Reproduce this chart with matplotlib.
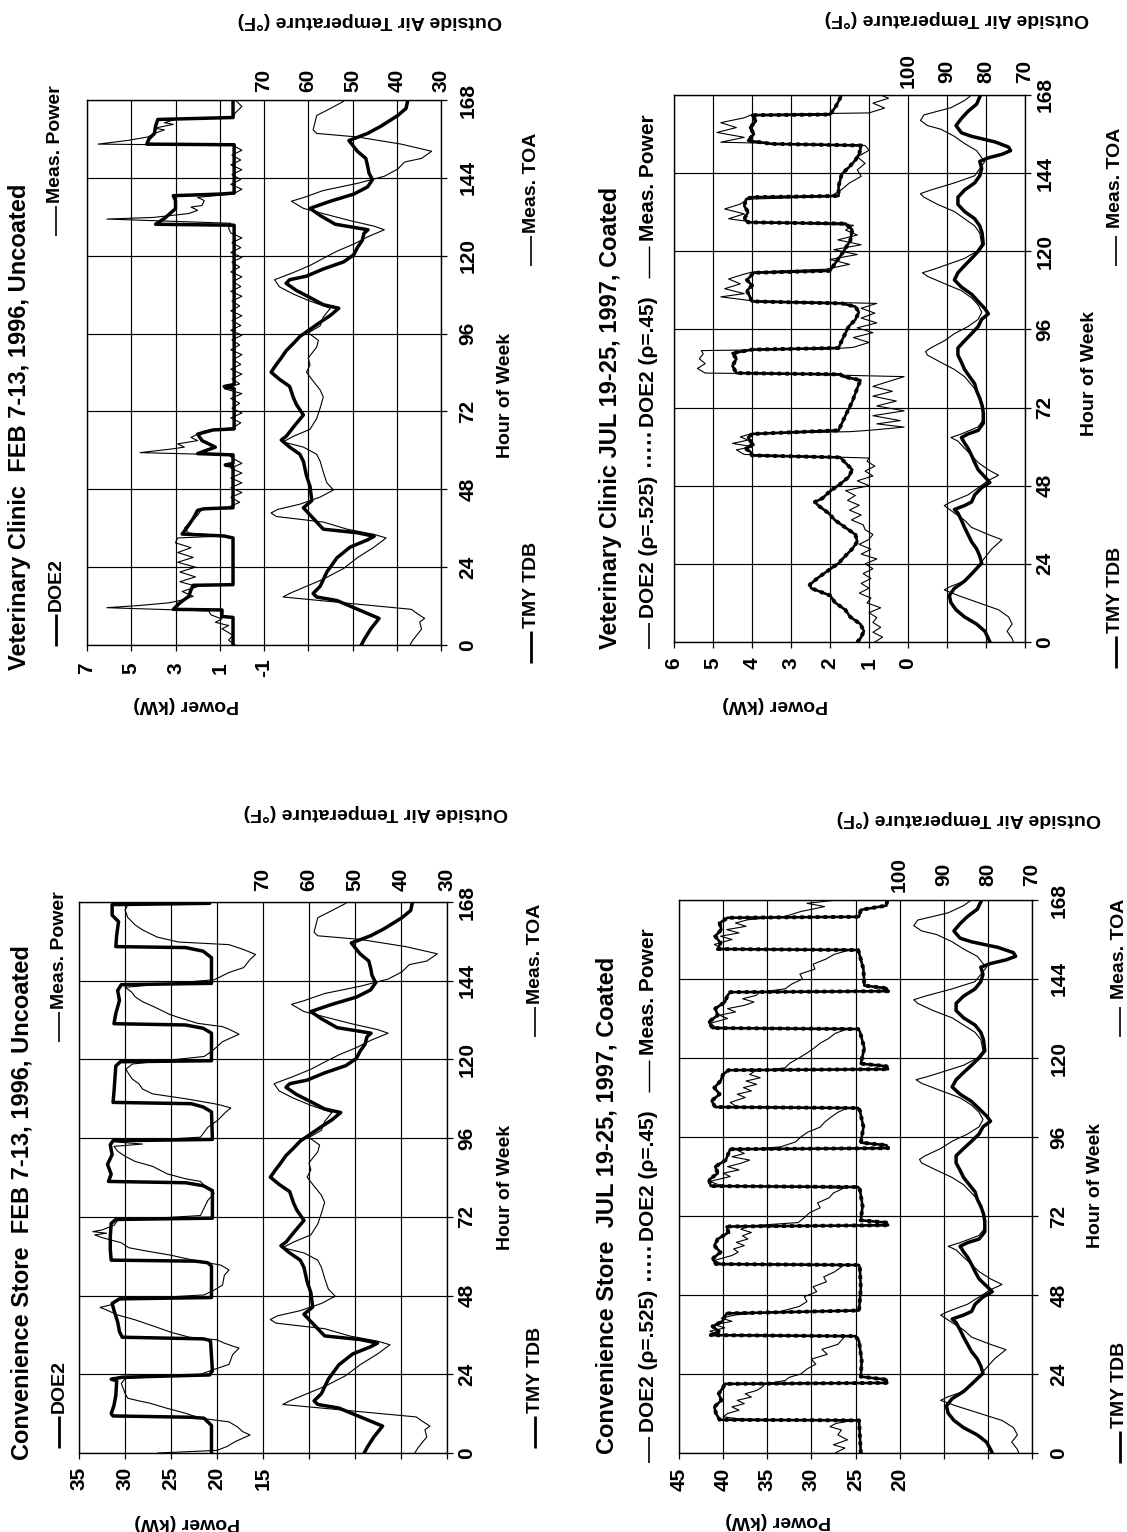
import matplotlib
matplotlib.use("Agg")
import matplotlib.pyplot as plt
from matplotlib.lines import Line2D
import numpy as np

plt.rcParams['font.family'] = ['Liberation Sans', 'DejaVu Sans']
plt.rcParams['font.weight'] = 'bold'

W, H = 1127, 1532
DPI = 100
PT = 72.0 / DPI

# ------------------------------------------------------------------ data
HOUR_TICKS = [0, 24, 48, 72, 96, 120, 144, 168]

# February week (shared by both FEB panels): (hour, degF)
FEB_TMY = [(0, 48.0), (1.6, 47.4), (4.9, 45.9), (8.2, 44.0), (9.3, 45.9), (11.5, 49.7), (13.7, 53.5),
           (14.8, 58.1), (15.9, 58.9), (18.1, 57.3), (22.5, 55.8), (26.9, 53.5), (30.2, 50.5), (32.4, 46.6),
           (33.5, 45.1), (34.6, 48.9), (35.7, 56.6), (37.9, 58.1), (40.1, 59.6), (42.3, 61.1), (44.5, 59.2),
           (48.9, 59.6), (52.2, 60.4), (56.6, 61.1), (58.8, 61.9), (61, 64.2), (63.2, 66.1), (64.3, 65.0),
           (67.6, 63.1), (70.9, 61.1), (74.2, 62.7), (76.4, 63.4), (79.7, 64.2), (81.9, 66.5), (84.1, 68.4),
           (86.3, 67.3), (88.5, 66.1), (90.7, 65.0), (92.9, 63.4), (95.1, 61.9), (97.3, 59.6), (99.5, 57.3),
           (101.6, 55.0), (103.8, 53.1), (104.9, 56.6), (107.1, 59.6), (109.3, 62.7), (111.5, 65.0),
           (112.6, 64.2), (113.7, 60.4), (115.9, 56.6), (118.1, 52.0), (120.3, 49.7), (122.5, 48.9),
           (124.7, 47.8), (126.9, 47.4), (128, 46.5), (129.7, 53.9), (132.4, 57.3), (134.6, 59.6),
           (136.8, 55.0), (139, 49.7), (141.2, 46.6), (143.4, 45.5), (145.6, 46.3), (147.8, 46.6),
           (150, 47.0), (152.2, 48.9), (155.5, 50.8), (157.7, 46.6), (159.9, 43.6), (163.2, 39.8),
           (165.4, 37.9), (168, 37.5)]
FEB_TOA = [(0, 37.0), (1.6, 36.3), (4.9, 34.4), (7.1, 34.8), (8.2, 33.7), (9.9, 35.6), (11, 36.7),
           (14.8, 65.7), (15.9, 64.2), (18.1, 60.4), (20.3, 56.6), (23.6, 52.0), (26.9, 48.9), (30.2, 45.1),
           (33, 42.4), (34.1, 45.1), (35.7, 51.2), (37.9, 56.6), (39.6, 67.2), (40.7, 68.4), (41.8, 66.9),
           (43.4, 61.9), (45.6, 57.3), (47.8, 54.3), (50, 55.8), (53.3, 56.6), (56.6, 57.3), (58.8, 58.1),
           (61, 61.1), (62.6, 65.7), (64.3, 63.4), (66.5, 59.6), (69.8, 58.1), (73.1, 57.3), (76.4, 56.6),
           (78.6, 57.3), (81.9, 59.2), (84.1, 60.4), (86.3, 59.6), (88.5, 60.0), (91.8, 58.1), (93.9, 57.7),
           (96.2, 60.0), (98.4, 57.3), (101.1, 56.6), (103.8, 55.0), (106, 59.6), (108.2, 63.4),
           (110.4, 66.5), (112.6, 67.6), (114.8, 63.4), (117, 59.6), (119.2, 56.6), (121.4, 53.5),
           (123.6, 49.7), (125.8, 46.6), (128, 42.8), (129.1, 45.1), (130.8, 50.5), (132.4, 55.0),
           (134.6, 61.1), (136.8, 63.8), (137.9, 61.1), (140.1, 56.6), (142.3, 48.9), (144.5, 42.8),
           (146.7, 39.8), (148.9, 38.2), (150, 34.4), (152.2, 32.1), (154.4, 39.0), (156.6, 48.9),
           (157.7, 58.1), (158.8, 58.9), (161, 58.5), (163.2, 58.1), (165.4, 55.0), (167.6, 52.0)]

# July week (shared by both JUL panels): (hour, degF)
JUL_TMY = [(0, 79.0), (1.1, 79.4), (3.3, 80.3), (5.5, 82.4), (7.7, 85.5), (9.9, 87.7), (12.1, 89.0),
           (14.3, 89.4), (16.5, 88.1), (18.7, 85.5), (20.9, 83.7), (23.1, 82.0), (24.2, 81.1), (26.4, 81.6),
           (28.6, 82.4), (30.8, 83.7), (33, 84.6), (35.2, 85.5), (37.4, 86.3), (39.6, 87.2), (40.7, 88.1),
           (41.9, 85.5), (43, 83.7), (45.2, 82.9), (47.4, 81.1), (49, 79.0), (50.7, 80.3), (52.9, 82.0),
           (55.1, 82.9), (57.3, 83.7), (59.5, 84.6), (61.1, 85.5), (62.8, 86.3), (63.9, 84.6), (65, 82.0),
           (67.2, 80.7), (70.5, 80.7), (72.7, 81.0), (74.9, 81.6), (77.1, 82.4), (79.3, 82.9), (81.5, 84.2),
           (83.7, 85.5), (85.9, 86.3), (88.1, 87.2), (90.3, 87.2), (92.5, 85.5), (94.7, 83.7), (96.9, 82.0),
           (99.1, 81.1), (100.8, 79.4), (102.4, 80.3), (104.6, 82.0), (106.8, 83.7), (109, 86.3),
           (111.2, 88.1), (113.4, 87.2), (115.6, 85.5), (117.8, 83.7), (120, 82.0), (122.2, 80.7),
           (125.6, 81.0), (127.8, 81.6), (130, 82.9), (132.2, 85.5), (134.4, 87.2), (136.6, 87.2),
           (138.8, 85.5), (141, 82.9), (143.2, 81.6), (145.4, 81.1), (147.6, 81.6), (148.7, 79.4),
           (149.8, 75.9), (150.9, 73.7), (152, 74.2), (153.6, 77.7), (155.3, 83.7), (156.4, 86.3),
           (158.6, 87.7), (160.8, 86.3), (163, 84.6), (165.2, 82.4), (167.4, 81.6)]
JUL_TOA = [(0, 73.0), (1.1, 73.3), (3.3, 74.6), (5.5, 73.3), (7.7, 74.2), (9.9, 76.8), (12.1, 82.0),
           (14.3, 87.2), (16, 90.7), (17.1, 89.0), (18.7, 85.5), (20.9, 83.7), (23.1, 82.0), (25.3, 80.7),
           (28.6, 78.5), (31.4, 75.9), (33, 79.4), (35.2, 83.7), (37.4, 85.5), (39.6, 88.1), (41.9, 90.7),
           (43, 89.0), (45.2, 84.6), (47.4, 82.0), (49.6, 79.4), (51.2, 76.8), (52.9, 79.4), (55.1, 82.0),
           (57.3, 83.7), (59.5, 85.5), (61.7, 87.2), (62.8, 89.0), (63.9, 86.3), (66.1, 82.0), (68.3, 80.7),
           (72.7, 81.1), (74.9, 81.6), (77.1, 82.4), (81.5, 85.5), (83.7, 88.1), (85.9, 91.6), (88.1, 95.0),
           (89.2, 95.5), (90.3, 94.2), (92.5, 90.7), (94.7, 88.1), (96.9, 84.6), (99.1, 82.0), (101.3, 81.1),
           (103.5, 82.0), (105.7, 83.7), (107.9, 86.3), (110.1, 90.7), (112.3, 95.0), (113.4, 96.3),
           (114.5, 93.3), (115.6, 90.7), (117.8, 85.5), (120, 82.4), (122.2, 81.1), (125.6, 81.6),
           (127.8, 82.9), (130, 85.5), (132.2, 88.1), (134.4, 92.4), (136.6, 95.9), (137.7, 96.8),
           (138.8, 94.2), (141, 88.1), (143.2, 82.9), (145.4, 81.6), (147.6, 80.3), (148.7, 81.1),
           (150.9, 82.4), (153.1, 85.5), (155.3, 88.1), (157.5, 91.6), (158.6, 95.0), (160.2, 96.8),
           (161.9, 95.9), (164.1, 89.0), (166.3, 85.5), (168, 83.7)]

# Veterinary clinic, February: (hour, kW)
VF_DOE2 = [(0, 0.4), (8.5, 0.4), (8.8, 0.9), (10.8, 0.9), (11.0, 3.1), (13, 2.8), (15, 2.4), (17, 2.3),
           (18.4, 2.2), (18.6, 0.4), (33, 0.4), (33.6, 0.8), (34.2, 2.7), (36, 2.5), (39, 2.2), (41.5, 2.0),
           (42, 1.7), (42.3, 0.4), (55, 0.4), (55.5, 0.75), (56, 0.4), (58.6, 0.4), (59, 2.0), (61, 1.2),
           (63, 1.8), (65, 2.0), (66.3, 1.3), (66.6, 0.35), (79, 0.35), (79.7, 0.8), (80.3, 0.35),
           (129.4, 0.35), (129.7, 3.9), (131.5, 3.5), (134.5, 3.0), (137, 3.0), (138.5, 3.1), (139, 1.0),
           (139.3, 0.35), (154.2, 0.35), (154.4, 4.3), (156, 4.2), (157.7, 3.95), (160, 3.9), (162, 3.8),
           (162.6, 0.4), (168, 0.4)]
VF_MEAS = [(0, 0.3), (1.5, 0.6), (3, 0.4), (5, 0.9), (6, 0.6), (7, 1.2), (8, 0.9), (9.3, 1.4), (10.5, 1.5),
           (11.5, 6.1), (12.2, 4.6), (13, 3.3), (13.7, 2.8), (15, 2.2), (16.5, 2.7), (18, 2.0), (19.5, 2.8),
           (21, 2.1), (22.5, 2.8), (24, 2.1), (25.5, 2.9), (27, 2.2), (28.5, 2.9), (30, 2.3), (31.5, 3.0),
           (33, 2.9), (33.6, 0.8), (34.5, 2.4), (36, 2.6), (38, 2.3), (40, 2.0), (42, 1.8), (42.5, 0.6),
           (44, 0.1), (45.5, 0.5), (47, 0.0), (48.5, 0.5), (50, 0.0), (51.5, 0.5), (53, 0.0), (54.5, 0.5),
           (56, 0.0), (57.5, 0.4), (58.6, 0.6), (59.3, 4.6), (60.4, 3.2), (61, 2.6), (62, 2.9), (63, 2.0),
           (64, 2.3), (65, 2.0), (66, 1.7), (67, 0.4), (68.5, 0.05), (70, 0.5), (71.5, 0.0), (73, 0.45),
           (74.5, 0.1), (76, 0.5), (77.5, 0.0), (79, 0.8), (80.5, 0.1), (82, 0.45), (83.5, 0.0), (85, 0.5),
           (86.5, 0.05), (88, 0.4), (89.5, 0.0), (91, 0.5), (92.5, 0.1), (94, 0.45), (95.5, 0.0), (97, 0.5),
           (98.5, 0.05), (100, 0.45), (101.5, 0.0), (103, 0.5), (104.5, 0.1), (106, 0.45), (107.5, 0.0),
           (109, 0.5), (110.5, 0.05), (112, 0.4), (113.5, 0.0), (115, 0.5), (116.5, 0.1), (118, 0.45),
           (119.5, 0.0), (121, 0.5), (122.5, 0.05), (124, 0.45), (125.5, 0.0), (127, 0.5), (128.5, 0.6),
           (130, 0.5), (131.3, 6.1), (131.8, 4.0), (133, 2.4), (134, 2.0), (135, 2.3), (135.5, 1.8),
           (137, 1.7), (138, 2.0), (139, 0.4), (140.5, 0.0), (142, 0.5), (143.5, 0.05), (145, 0.45),
           (146.5, 0.0), (148, 0.5), (149.5, 0.05), (151, 0.45), (152.5, 0.0), (154, 0.4), (154.4, 6.5),
           (155.5, 5.2), (156.6, 4.25), (157.7, 3.95), (158.8, 3.5), (159.3, 3.95), (160.5, 3.1), (161, 3.5),
           (162, 3.0), (162.6, 0.4), (164, 0.3), (166, 0.0), (168, 0.3)]

# Veterinary clinic, July: (hour, kW)
VJ_DOE2_525 = [(0, 1.3), (1.1, 1.22), (3.3, 1.13), (5.5, 1.22), (7.7, 1.48), (9.9, 1.61), (12.1, 1.87),
               (14.3, 2.0), (16.5, 2.48), (17.6, 2.52), (19.8, 2.3), (22, 2.04), (24.2, 1.78), (26.4, 1.61),
               (28.6, 1.43), (30.8, 1.3), (33, 1.35), (35.2, 1.61), (37.4, 1.87), (39.6, 2.04), (41.9, 2.3),
               (43, 2.39), (44.1, 2.2), (46.3, 2.0), (48.5, 1.74), (50.7, 1.52), (52.9, 1.43), (55.1, 1.61),
               (56.7, 1.74), (57.3, 4.0), (58.4, 4.04), (59.5, 4.17), (60.6, 3.96), (61.7, 4.04), (62.8, 4.1),
               (63.9, 4.0), (65, 1.78), (69.4, 1.61), (73.8, 1.43), (78, 1.3), (80.4, 1.22), (81.5, 1.65),
               (82.2, 1.74), (82.6, 4.4), (84.8, 4.5), (87, 4.4), (88.7, 4.5), (89.8, 4.0), (90.3, 1.78),
               (92.5, 1.7), (96.9, 1.52), (99, 1.35), (101.3, 1.26), (103, 1.35), (104, 1.7), (104.6, 4.0),
               (105.7, 4.04), (107.9, 4.13), (109.5, 4.0), (111.2, 4.13), (112.3, 4.04), (113.4, 3.96),
               (114, 2.0), (115.6, 1.91), (117.8, 1.78), (120, 1.65), (123.3, 1.48), (126.6, 1.43),
               (128.5, 1.6), (128.9, 4.1), (130, 4.2), (132, 4.1), (134, 4.2), (136, 4.15), (136.6, 4.0),
               (137, 1.78), (140, 1.78), (143.7, 1.7), (146, 1.5), (148, 1.35), (150, 1.25), (152.5, 1.2),
               (153, 3.5), (154, 4.1), (156, 3.95), (158, 4.05), (160, 3.9), (161.8, 4.0), (162, 2.0),
               (164.5, 1.85), (168, 1.7)]
VJ_DOE2_45 = VJ_DOE2_525
VJ_MEAS = [(0, 0.85), (1.5, 0.65), (3, 0.9), (4.5, 0.7), (6, 0.9), (7.5, 0.8), (9, 1.0), (10.5, 0.7),
           (12, 1.05), (13.5, 0.95), (15, 1.25), (16.5, 1.0), (18, 1.2), (19.5, 0.95), (21, 1.15), (22.5, 0.9),
           (24, 1.1), (25.5, 0.8), (27, 1.2), (28.5, 0.95), (30, 1.25), (31.5, 1.0), (33, 0.9), (34.5, 1.1),
           (36, 1.15), (37.5, 1.45), (39, 1.2), (40.5, 1.5), (42, 1.25), (43.5, 1.55), (45, 1.35), (46.5, 1.6),
           (48, 1.0), (49.5, 1.3), (51, 0.9), (52.5, 1.1), (54, 0.85), (55.5, 1.05), (56.5, 1.0), (57.2, 3.0),
           (57.6, 4.2), (59, 4.4), (60, 4.0), (61, 4.5), (62, 4.1), (63, 4.3), (64, 4.0), (64.6, 1.5),
           (65, 1.0), (66, 0.1), (67, 0.8), (68, 0.2), (69.5, 0.9), (71, 0.1), (72.5, 0.8), (74, 0.3),
           (75.5, 0.9), (77, 0.4), (78.5, 0.9), (80, 0.5), (81.5, 0.1), (82.3, 3.0), (82.6, 5.2), (84, 5.4),
           (85.5, 5.2), (87, 5.35), (88.5, 5.25), (89.5, 5.3), (90, 2.0), (90.5, 1.4), (92, 1.0), (93.5, 1.4),
           (95, 0.9), (96.5, 1.3), (98, 0.8), (99.5, 1.2), (101, 0.85), (102.5, 1.2), (104, 0.8), (104.8, 4.0),
           (106, 4.8), (107, 4.2), (108.5, 4.7), (110, 4.3), (111.5, 4.6), (113, 4.2), (113.6, 4.0),
           (114.5, 2.1), (116, 1.5), (117.5, 2.0), (119, 1.3), (120.5, 1.9), (122, 1.2), (123.5, 1.8),
           (125, 1.3), (126.5, 1.6), (128, 1.4), (129, 4.0), (130, 4.6), (131.5, 4.2), (133, 4.7),
           (134.5, 4.3), (136, 4.1), (136.8, 2.0), (137.5, 1.9), (139, 1.7), (141, 1.5), (143, 1.2),
           (145, 1.3), (147, 1.1), (149, 1.3), (151, 1.0), (152.5, 1.1), (153, 3.0), (153.5, 4.8), (155, 4.2),
           (156.5, 4.9), (158, 4.4), (159.5, 4.8), (161, 4.2), (162, 4.0), (162.5, 1.0), (164, 0.6),
           (165.5, 0.9), (167, 0.5), (168, 0.7)]

# Convenience store, February: (hour, kW)
CF_DOE2 = [(0, 20.6), (8.4, 20.6), (9.5, 21.0), (10.6, 21.4), (10.9, 22.8), (11.3, 31.3), (12, 31.5),
           (14.5, 31.2), (17.5, 31.0), (22, 30.9), (22.5, 31.5), (23.1, 30.3), (23.8, 20.8), (25, 20.5),
           (34, 20.7), (34.5, 21.0), (34.8, 21.5), (35.3, 30.3), (37, 30.6), (40, 30.8), (43.5, 31.2),
           (45.6, 31.4), (47, 30.6), (47.4, 20.6), (57, 20.6), (58, 21.0), (58.5, 22.4), (58.8, 31.5),
           (62, 31.6), (66, 31.6), (70, 31.5), (71.2, 31.0), (71.6, 20.5), (80, 20.5), (81.5, 21.5),
           (82.4, 23.4), (82.8, 31.8), (85, 31.5), (88, 31.9), (91, 31.4), (94, 31.6), (95.2, 31.3),
           (95.6, 20.5), (104, 20.6), (105.5, 21.5), (106.5, 22.8), (106.9, 31.3), (110, 31.2), (114, 31.1),
           (118, 31.0), (119.3, 30.5), (119.6, 20.6), (128, 20.6), (129.5, 21.5), (130.5, 23.4),
           (130.9, 31.2), (134, 31.0), (138, 30.6), (141, 30.8), (142.8, 30.4), (143.2, 20.6), (151, 20.6),
           (153, 21.5), (154.1, 23.4), (154.4, 31.0), (158, 30.9), (162, 30.7), (164, 31.4), (167.2, 31.4),
           (167.6, 20.8), (168, 20.8)]
CF_MEAS = [(0, 26.4), (0.8, 20.0), (2, 18.9), (3.5, 18.0), (5.5, 16.4), (6.5, 17.2), (8, 17.8), (9.5, 18.7),
           (10.6, 21.8), (12.1, 23.4), (13.6, 25.4), (15.2, 27.3), (15.9, 28.5), (16.7, 29.7), (18.2, 30.0),
           (19.7, 30.2), (21.2, 30.4), (22.7, 30.0), (24, 21.8), (25.5, 20.3), (27, 18.7), (30, 18.3),
           (32, 17.6), (32.7, 18.4), (33.5, 19.2), (34.5, 20.0), (35.3, 23.0), (36.8, 25.0), (38.3, 26.5),
           (40.6, 28.9), (42.1, 30.8), (43.6, 32.0), (44.4, 32.7), (45.2, 31.5), (46, 31.1), (46.7, 30.8),
           (48.2, 21.4), (49.7, 20.3), (51.2, 19.4), (54.2, 19.2), (55.8, 18.7), (56.5, 19.1), (57.3, 19.6),
           (58.8, 22.6), (60.3, 25.0), (61.8, 28.1), (62.6, 29.6), (64.1, 30.4), (65.6, 32.4), (66.5, 33.3),
           (67, 32.0), (67.5, 33.5), (68, 32.5), (69.4, 31.2), (70.9, 30.8), (72.4, 21.8), (74.7, 21.4),
           (77, 21.0), (79.2, 20.3), (80.5, 21.0), (82.8, 21.8), (83.6, 23.4), (85.1, 25.4), (87.4, 27.0),
           (88.9, 28.9), (90.5, 30.0), (92, 30.8), (93.5, 31.2), (94.2, 28.1), (94.8, 30.8), (96.3, 21.8),
           (99.3, 21.0), (101.5, 19.9), (103.8, 19.1), (105.2, 18.5), (106, 19.5), (106.5, 20.3),
           (108, 23.4), (109.5, 27.0), (111, 28.1), (112.6, 28.5), (114, 29.2), (115.6, 29.6), (117, 29.9),
           (118.6, 29.2), (120.9, 21.4), (122.4, 20.6), (125.4, 19.4), (127.7, 17.6), (129.2, 18.7),
           (130, 19.4), (131, 22.1), (133, 24.4), (133.8, 25.2), (136, 26.8), (137.6, 28.1), (139.1, 28.9),
           (140.6, 29.3), (142, 30.0), (144.3, 20.3), (146.5, 18.7), (148, 17.1), (150.5, 16.4), (152, 15.8),
           (153.5, 17.1), (155, 18.7), (155.8, 24.2), (157.3, 26.5), (159.5, 28.1), (161, 28.9),
           (163.3, 29.7), (165.6, 30.0), (167, 29.7), (168, 29.8)]

# Convenience store, July: (hour, kW)
CJ_DOE2_525 = [(0, 24.4), (5, 24.5), (9.9, 24.6), (10.1, 40.4), (12, 40.8), (14, 41.0), (16, 40.2),
               (18, 40.5), (20, 40.0), (21, 39.8), (21.3, 21.4), (22.3, 21.5), (23.2, 24.4), (28, 24.3),
               (34, 24.6), (35.5, 25.0), (35.8, 41.4), (37, 40.5), (38.5, 41.2), (40, 40.1), (41.5, 39.8),
               (42.4, 39.6), (43.3, 24.6), (50, 24.4), (56, 24.5), (57.1, 24.6), (57.4, 40.8), (59, 41.2),
               (61, 40.3), (63, 41.0), (65, 40.6), (67, 39.4), (68.8, 39.6), (69.2, 21.3), (70, 21.5),
               (70.7, 24.4), (75, 24.2), (80, 24.5), (80.8, 24.7), (81.1, 41.4), (83, 41.6), (85, 40.6),
               (87, 40.9), (89, 39.7), (91, 39.4), (92.3, 39.2), (92.6, 21.3), (93.5, 21.5), (94.3, 24.4),
               (99, 24.1), (104, 24.5), (104.8, 24.7), (105.1, 40.9), (107, 41.3), (109, 40.4), (111, 41.0),
               (113, 40.3), (115, 40.0), (116.3, 39.4), (116.6, 21.3), (117.5, 21.5), (118.3, 24.4),
               (123, 24.0), (128, 24.5), (128.8, 24.7), (129.1, 41.2), (131, 41.6), (133, 40.6), (135, 40.9),
               (137, 39.8), (139, 39.5), (140, 39.2), (140.3, 21.3), (141.2, 21.5), (142, 24.0), (147, 24.1),
               (152, 24.6), (152.8, 24.7), (153.1, 40.6), (155, 40.3), (157, 40.9), (159, 40.2), (161, 40.4),
               (162.6, 39.5), (162.9, 24.6), (165, 24.4), (166.3, 21.5), (168, 21.4)]
CJ_DOE2_45 = CJ_DOE2_525
CJ_MEAS = [(0, 27.3), (1.5, 26.2), (2.5, 27.5), (4, 25.9), (5.5, 27.0), (7, 26.6), (8, 27.9), (9, 27.2),
           (9.8, 25.5), (10.3, 38.0), (11, 40.0), (12, 39.5), (13, 38.2), (14, 39.0), (15, 37.6), (16, 38.4),
           (17, 36.8), (18, 37.5), (19, 36.2), (20, 35.6), (21, 35.2), (22, 33.0), (23, 32.5), (24, 31.2),
           (25.5, 30.5), (27, 29.5), (28.5, 30.0), (30, 28.2), (31.5, 28.8), (33, 27.0), (34.5, 26.5),
           (35.5, 26.2), (36, 40.5), (37, 41.5), (38, 39.8), (39, 41.0), (40, 39.0), (41, 40.2), (42, 38.5),
           (43, 33.5), (44.5, 31.4), (46, 30.5), (47.5, 30.8), (49, 29.4), (50.5, 29.8), (52, 28.3),
           (53.5, 28.6), (55, 27.4), (56.5, 26.6), (57.2, 26.3), (57.5, 40.2), (58.5, 41.0), (60, 39.0),
           (61, 38.3), (62, 38.8), (63, 37.6), (64, 38.5), (65, 37.2), (66, 37.8), (67, 36.8), (68, 38.0),
           (69, 37.0), (70, 31.5), (71.5, 30.8), (73, 30.2), (74.5, 29.0), (76, 29.3), (77.5, 28.0),
           (79, 27.5), (80.5, 26.3), (81.3, 40.3), (82.5, 41.5), (84, 39.2), (85, 40.0), (86, 38.2),
           (87, 39.5), (88, 38.0), (89, 37.0), (90, 39.0), (91, 37.6), (92, 38.4), (93, 33.5), (94.5, 31.8),
           (96, 31.2), (97.5, 30.4), (99, 29.0), (100.5, 28.5), (102, 27.8), (103.5, 27.0), (104.7, 26.0),
           (105.3, 38.5), (106.5, 39.2), (108, 37.5), (109, 38.4), (110, 36.8), (111, 37.7), (112, 36.2),
           (113, 37.4), (114, 35.8), (115, 37.0), (116, 36.4), (117, 33.0), (118.5, 32.4), (120, 31.4),
           (121.5, 30.5), (123, 29.7), (124.5, 29.0), (126, 28.0), (127.5, 27.3), (128.7, 26.0),
           (129.3, 40.8), (130.5, 41.5), (132, 39.5), (133, 40.4), (134, 38.6), (135, 39.5), (136, 37.6),
           (137, 36.5), (138, 37.8), (139, 36.3), (140, 35.8), (141, 33.0), (142.5, 32.2), (144, 31.0),
           (145.5, 31.3), (147, 29.6), (148.5, 29.8), (150, 28.4), (151.5, 27.4), (152.7, 25.8),
           (153.3, 40.2), (154.5, 41.0), (156, 39.0), (157, 40.3), (158, 38.2), (159, 39.6), (160, 37.4),
           (161, 38.6), (162, 37.2), (163, 33.0), (164.5, 31.2), (166, 28.5), (167, 30.5), (168, 27.0)]

TITLES = ["Veterinary Clinic  FEB 7-13, 1996, Uncoated",
          "Veterinary Clinic JUL 19-25, 1997, Coated",
          "Convenience Store  FEB 7-13, 1996, Uncoated",
          "Convenience Store  JUL 19-25, 1997, Coated"]
VF_POWER_LABELS = [7, 5, 3, 1, -1]
VJ_POWER_LABELS = [6, 5, 4, 3, 2, 1, 0]
CF_POWER_LABELS = [35, 30, 25, 20, 15]
CJ_POWER_LABELS = [45, 40, 35, 30, 25, 20]
FEB_TEMP_LABELS = [70, 60, 50, 40, 30]
JUL_TEMP_LABELS = [100, 90, 80, 70]

# ------------------------------------------------------------------ figure
fig = plt.figure(figsize=(W / DPI, H / DPI), dpi=DPI)
fig.patch.set_facecolor('white')
renderer = fig.canvas.get_renderer()

FS_TICK = 15
FS_LAB = 14
FS_TITLE = 17
FS_LEG = 14
FS_LEG_JUL = 15
THICK = 2.5
THIN = 0.8


def split(pairs):
    h = [p[0] for p in pairs]
    v = [p[1] for p in pairs]
    return h, v


def ftext(x, y, s, rot, fs, **kw):
    return fig.text(x / W, 1 - y / H, s, rotation=rot, fontsize=fs, fontweight='bold',
                    ha=kw.pop('ha', 'center'), va=kw.pop('va', 'center'), **kw)


def legend_seq(xpx, ypx, items, fs=FS_LEG):
    y = ypx
    for it in items:
        if it[0] == 'gap':
            y -= it[1]
        elif it[0] == 'line':
            L, lw, ls = it[1], it[2], it[3]
            fig.add_artist(Line2D([xpx / W, xpx / W], [1 - y / H, 1 - (y - L) / H], lw=lw, ls=ls,
                                  color='k', transform=fig.transFigure, solid_capstyle='butt'))
            y -= L
        else:
            t = fig.text(xpx / W, 1 - y / H, it[1], rotation=90, ha='center', va='bottom',
                         fontsize=fs, fontweight='bold')
            y -= t.get_window_extent(renderer).height


def panel(box, prange, plabels, trange, tlabels, series_p, series_t, offs):
    x0, y0, x1, y1 = box
    ax = fig.add_axes([x0 / W, 1 - y1 / H, (x1 - x0) / W, (y1 - y0) / H])
    pmax, pmin, pstep = prange
    ax.set_xlim(pmax, pmin)
    ax.set_ylim(0, 168)
    ax.set_xticks(np.arange(pmin, pmax + pstep / 2.0, pstep))
    ax.set_yticks(HOUR_TICKS)
    ax.tick_params(direction='out', length=4, width=0.9, color='k', labelbottom=False, labelleft=False,
                   right=True, top=True, left=False)
    ax.grid(True, color='k', lw=0.85)
    for s in ax.spines.values():
        s.set_linewidth(1.0)
    ax2 = ax.twiny()
    ax2.set_xlim(trange[0], trange[1])
    ax2.set_xticks([])
    for s in ax2.spines.values():
        s.set_visible(False)

    for pairs, style in series_p:
        h, v = split(pairs)
        ax.plot(v, h, color='k', **style)
    for pairs, style in series_t:
        h, v = split(pairs)
        ax2.plot(v, h, color='k', **style)

    pb, tt, hr = offs
    for p in plabels:
        ax.annotate(str(p), xy=(p, 0), xycoords=('data', 'axes fraction'), xytext=(0, -pb * PT),
                    textcoords='offset points', rotation=90, ha='center', va='center',
                    fontsize=FS_TICK, fontweight='bold')
    for t in tlabels:
        ax2.annotate(str(t), xy=(t, 1), xycoords=('data', 'axes fraction'), xytext=(0, tt * PT),
                     textcoords='offset points', rotation=90, ha='center', va='center',
                     fontsize=FS_TICK, fontweight='bold')
    for hh in HOUR_TICKS:
        ax.annotate(str(hh), xy=(1, hh), xycoords=('axes fraction', 'data'), xytext=(hr * PT, 0),
                    textcoords='offset points', rotation=90, ha='center', va='center',
                    fontsize=FS_TICK, fontweight='bold')
    return ax


S_DOE = dict(lw=THICK, solid_joinstyle='round')
S_MEAS = dict(lw=THIN)
S_525 = dict(lw=1.9)
S_45 = dict(lw=2.8, ls=(0, (0.9, 1.1)))

# ---- panel 1: Veterinary Clinic FEB
panel((87, 100, 441, 645), (7, -9, 2), VF_POWER_LABELS, (110, 30), FEB_TEMP_LABELS,
      [(VF_MEAS, S_MEAS), (VF_DOE2, S_DOE)], [(FEB_TOA, S_MEAS), (FEB_TMY, S_DOE)], (23, 20, 27))
# ---- panel 2: Veterinary Clinic JUL
panel((674, 95, 1025, 642), (6, -3, 1), VJ_POWER_LABELS, (160, 70), JUL_TEMP_LABELS,
      [(VJ_MEAS, S_MEAS), (VJ_DOE2_525, S_525), (VJ_DOE2_45, S_45)],
      [(JUL_TOA, S_MEAS), (JUL_TMY, S_DOE)], (21, 24, 20))
# ---- panel 3: Convenience Store FEB
panel((79, 902, 447, 1453), (35, -5, 5), CF_POWER_LABELS, (110, 30), FEB_TEMP_LABELS,
      [(CF_MEAS, S_MEAS), (CF_DOE2, S_DOE)], [(FEB_TOA, S_MEAS), (FEB_TMY, S_DOE)], (25, 23, 20))
# ---- panel 4: Convenience Store JUL
panel((679, 900, 1032, 1453), (45, 5, 5), CJ_POWER_LABELS, (150, 70), JUL_TEMP_LABELS,
      [(CJ_MEAS, S_MEAS), (CJ_DOE2_525, S_525), (CJ_DOE2_45, S_45)],
      [(JUL_TOA, S_MEAS), (JUL_TMY, S_DOE)], (26, 26, 27))

# ---- titles and axis titles
for (x, y), t in zip([(20, 427), (611, 418), (22, 1203), (607, 1205)], TITLES):
    ftext(x, y, t, 90, FS_TITLE)
for x, y in [(506, 395), (1089, 373), (506, 1188), (1095, 1185)]:
    ftext(x, y, "Hour of Week", 90, FS_LAB)
for x, y in [(186, 705), (775, 705), (187, 1522), (778, 1520)]:
    ftext(x, y, "Power (kW)", 180, FS_LAB)
for x, y in [(370, 20), (957, 18), (376, 812), (969, 819)]:
    ftext(x, y, "Outside Air Temperature (\u00b0F)", 180, FS_LAB)

# ---- legends
for x, y in [(56, 646), (59, 1448)]:
    legend_seq(x, y, [('line', 32, 2.0, '-'), ('gap', 3), ('text', 'DOE2')])
for x, y in [(56, 236), (59, 1042)]:
    legend_seq(x, y, [('line', 30, 1.2, '-'), ('gap', 3), ('text', 'Meas. Power')])
for x, y in [(531, 663), (535, 1448), (1116, 668), (1120, 1463)]:
    legend_seq(x, y, [('line', 32, 2.0, '-'), ('gap', 3), ('text', 'TMY TDB')])
for x, y, g in [(531, 266, 3), (535, 1037, 3), (1116, 266, 8), (1120, 1037, 8)]:
    legend_seq(x, y, [('line', 30, 1.2, '-'), ('gap', g), ('text', 'Meas. TOA')])
for x, y in [(649, 649), (649, 1463)]:
    legend_seq(x, y, [('line', 26, 1.2, '-'), ('gap', 5), ('text', 'DOE2 (\u03c1=.525)'), ('gap', 9),
                      ('line', 36, 2.6, (0, (0.9, 1.2))), ('gap', 4), ('text', 'DOE2 (\u03c1=.45)'),
                      ('gap', 18), ('line', 32, 1.0, '-'), ('gap', 5), ('text', 'Meas. Power')],
               fs=FS_LEG_JUL)

fig.savefig("out.png", dpi=DPI, facecolor='white')
